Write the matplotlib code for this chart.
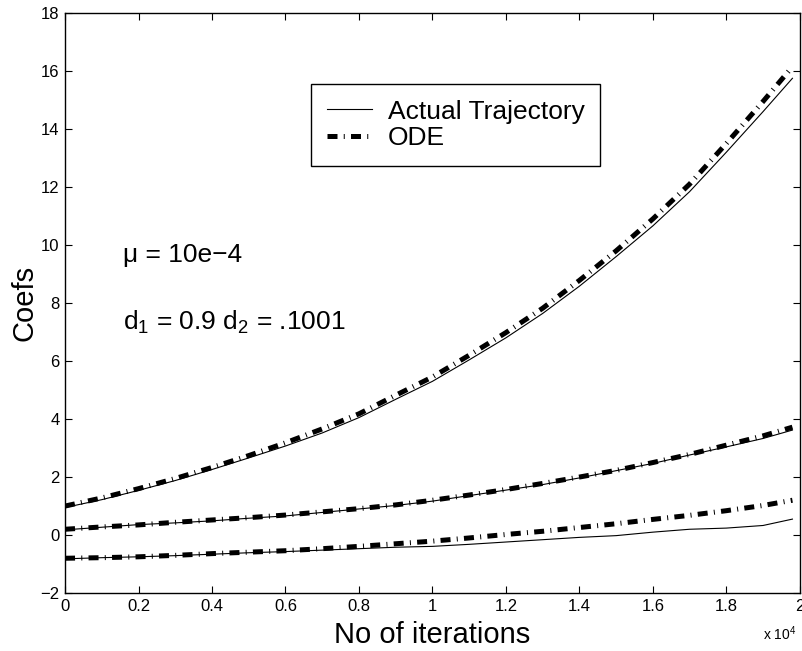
import matplotlib
matplotlib.use("Agg")
import matplotlib.pyplot as plt
import numpy as np

plt.rcParams['font.family'] = ['Liberation Sans', 'DejaVu Sans']
plt.rcParams['mathtext.fontset'] = 'custom'
plt.rcParams['mathtext.rm'] = 'Liberation Sans'
plt.rcParams['mathtext.it'] = 'Liberation Sans'

# iterations (raw), shown on the axis in units of 10^4
iterations = np.array([0, 1000, 2000, 3000, 4000, 5000, 6000, 7000, 8000, 9000, 10000,
                       11000, 12000, 13000, 14000, 15000, 16000, 17000, 18000, 19000, 19800])

ode_1 = [1.00, 1.28, 1.60, 1.95, 2.33, 2.74, 3.18, 3.66, 4.18, 4.82, 5.45,
         6.20, 6.98, 7.82, 8.78, 9.80, 10.90, 12.10, 13.50, 14.95, 16.15]
act_1 = [0.95, 1.22, 1.54, 1.88, 2.26, 2.66, 3.07, 3.52, 4.05, 4.68, 5.30,
         6.04, 6.80, 7.64, 8.58, 9.60, 10.66, 11.84, 13.20, 14.60, 15.75]

ode_2 = [0.20, 0.28, 0.35, 0.44, 0.52, 0.60, 0.69, 0.80, 0.91, 1.04, 1.20,
         1.38, 1.57, 1.78, 2.00, 2.23, 2.50, 2.78, 3.10, 3.42, 3.72]
act_2 = [0.18, 0.27, 0.36, 0.42, 0.49, 0.58, 0.66, 0.78, 0.90, 1.02, 1.17,
         1.36, 1.55, 1.74, 1.97, 2.22, 2.47, 2.76, 3.04, 3.33, 3.62]

ode_3 = [-0.80, -0.78, -0.75, -0.70, -0.64, -0.59, -0.54, -0.47, -0.39, -0.30, -0.21,
         -0.10, 0.02, 0.13, 0.26, 0.39, 0.54, 0.68, 0.84, 1.02, 1.20]
act_3 = [-0.82, -0.78, -0.75, -0.71, -0.66, -0.61, -0.57, -0.52, -0.47, -0.42, -0.39,
         -0.32, -0.24, -0.16, -0.08, -0.02, 0.10, 0.20, 0.24, 0.33, 0.55]

x = iterations / 1e4

fig = plt.figure(figsize=(8.03, 6.51), dpi=100)
ax = fig.add_axes([0.081, 0.089, 0.915, 0.891])

ode_style = dict(color='black', lw=3.6, ls=(0, (2.0, 1.25, 0.2, 1.25)),
                 dash_capstyle='butt')
for i, (a, o) in enumerate([(act_1, ode_1), (act_2, ode_2), (act_3, ode_3)]):
    ax.plot(x, a, color='black', lw=0.8,
            label='Actual Trajectory' if i == 0 else None)
    ax.plot(x, o, label='ODE' if i == 0 else None, **ode_style)

ax.set_xlim(0, 2)
ax.set_ylim(-2, 18)
ax.set_xticks(np.arange(0, 2.01, 0.2))
ax.set_xticklabels(['0', '0.2', '0.4', '0.6', '0.8', '1', '1.2', '1.4', '1.6', '1.8', '2'])
ax.set_yticks(np.arange(-2, 19, 2))
ax.set_yticklabels(['\u22122'] + [str(v) for v in range(0, 19, 2)])
ax.tick_params(direction='in', top=True, right=True, length=5, width=0.8,
               labelsize=12, pad=4)
for s in ax.spines.values():
    s.set_linewidth(1.0)

ax.set_xlabel('No of iterations', fontsize=21, labelpad=5)
ax.set_ylabel('Coefs', fontsize=21, labelpad=1)

ax.text(0.158, 9.66, '\u03bc = 10e\u22124', fontsize=19, va='center')
ax.text(0.158, 7.34, r'd$_1$ = 0.9 d$_2$ = .1001', fontsize=19, va='center')

fig.text(763 / 803, 1 - 640 / 651, r'x 10$^{4}$', fontsize=10, va='baseline')

leg = ax.legend(loc='upper left', bbox_to_anchor=(0.335, 0.878), fontsize=19,
                frameon=True, fancybox=False, edgecolor='black', framealpha=1,
                handlelength=1.7, handletextpad=0.6, labelspacing=0.1,
                borderpad=0.6, borderaxespad=0)
leg.get_frame().set_linewidth(1.0)

fig.savefig('out.png', dpi=100)
